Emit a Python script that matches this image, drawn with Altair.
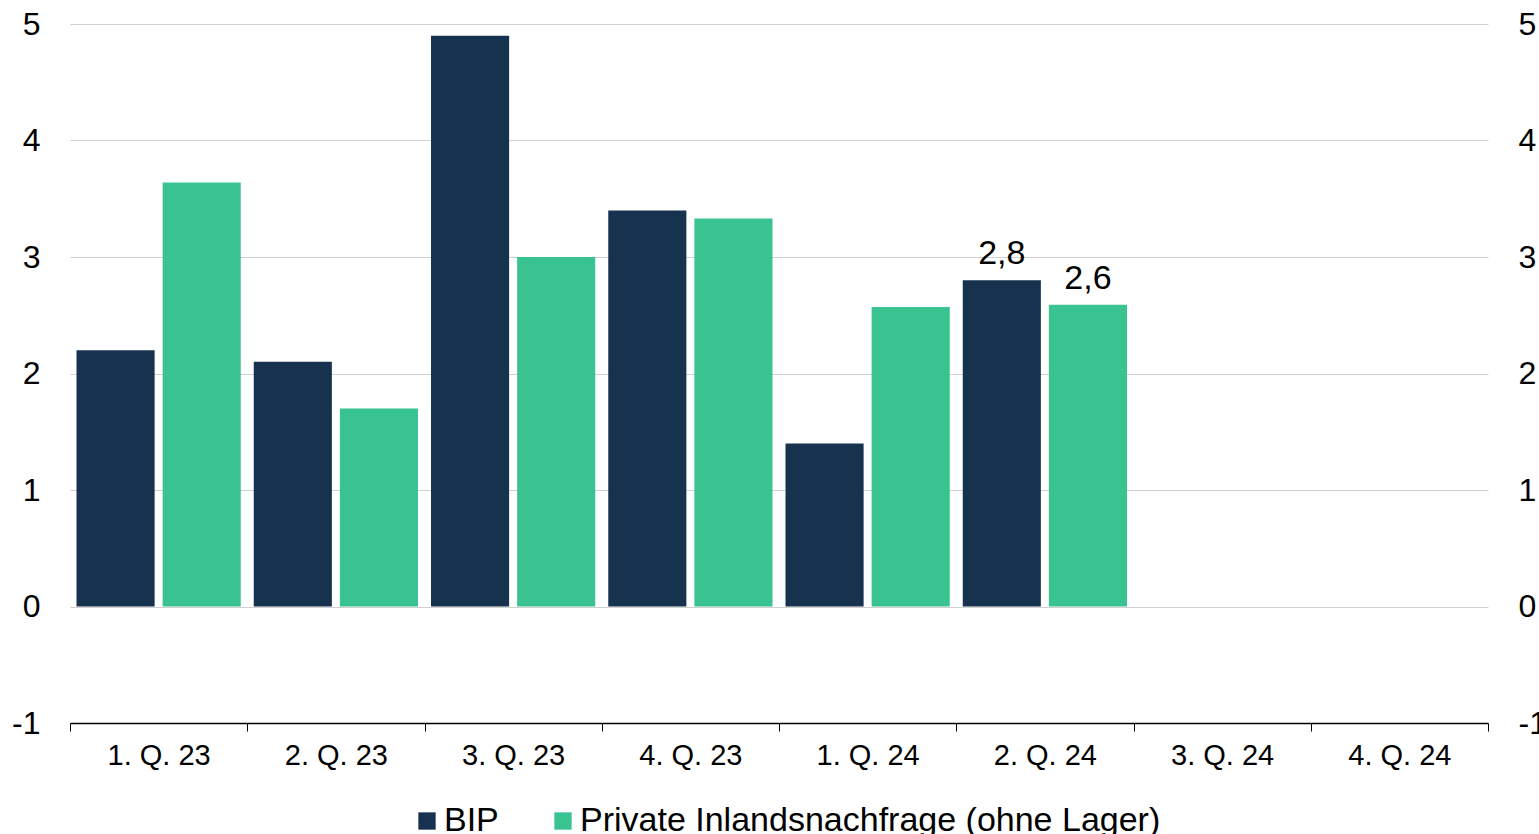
import altair as alt
import pandas as pd

quarters = ["1. Q. 23", "2. Q. 23", "3. Q. 23", "4. Q. 23", "1. Q. 24", "2. Q. 24", "3. Q. 24", "4. Q. 24"]
series_names = ["BIP", "Private Inlandsnachfrage (ohne Lager)"]
bip = [2.2, 2.1, 4.9, 3.4, 1.4, 2.8]
private = [3.64, 1.7, 3.0, 3.33, 2.57, 2.59]
label_bip = ["", "", "", "", "", "2,8"]
label_private = ["", "", "", "", "", "2,6"]
y_ticks = [-1, 0, 1, 2, 3, 4, 5]
colors = ["#17324f", "#38c391"]

rows = []
for i, v in enumerate(bip):
    rows.append({"q": quarters[i], "s": series_names[0], "v": v, "lab": label_bip[i]})
for i, v in enumerate(private):
    rows.append({"q": quarters[i], "s": series_names[1], "v": v, "lab": label_private[i]})
df = pd.DataFrame(rows)

FONT = "Liberation Sans"

x = alt.X("q:N", sort=quarters, title=None,
          scale=alt.Scale(domain=quarters, paddingInner=0, paddingOuter=0),
          axis=alt.Axis(labelAngle=0, labelFontSize=29, labelColor="#000000", labelFont=FONT,
                        domainColor="#000000", domainWidth=1.5, tickColor="#000000",
                        tickBand="extent", tickSize=8, labelPadding=10, grid=False))
xo = alt.XOffset("s:N", sort=series_names,
                 scale=alt.Scale(domain=series_names, paddingInner=0.093, paddingOuter=0.0756))
yscale = alt.Scale(domain=[-1, 5], nice=False, zero=False)

bars = alt.Chart(df).mark_bar(clip=False).encode(
    x=x,
    xOffset=xo,
    y=alt.Y("v:Q", scale=yscale, title=None,
            axis=alt.Axis(orient="left", values=y_ticks, labelFontSize=32,
                          labelExpr="toString(datum.value)",
                          labelFont=FONT, labelColor="#000000", domain=False, ticks=False,
                          labelPadding=30, gridColor="#d0d0d0", gridWidth=1.2)),
    y2=alt.datum(0),
    color=alt.Color("s:N", sort=series_names,
                    scale=alt.Scale(domain=series_names, range=colors),
                    legend=alt.Legend(title=None, orient="none", direction="horizontal",
                                      legendX=340, legendY=780, symbolType="square",
                                      symbolSize=300, symbolStrokeWidth=0, labelFontSize=34,
                                      labelFont=FONT, labelColor="#000000", labelOffset=0,
                                      columnPadding=47, labelLimit=1000)),
)

texts = alt.Chart(df).mark_text(fontSize=34, font=FONT, color="#000000", dy=-16,
                                baseline="alphabetic").encode(
    x=x,
    xOffset=xo,
    y=alt.Y("v:Q", scale=yscale, title=None,
            axis=alt.Axis(orient="right", values=y_ticks, labelFontSize=32,
                          labelExpr="toString(datum.value)",
                          labelFont=FONT, labelColor="#000000", domain=False, ticks=False,
                          labelPadding=30, grid=False, labelAlign="left")),
    text="lab:N",
)

chart = alt.layer(bars, texts).resolve_axis(y="independent").properties(
    width=1418, height=699,
    autosize=alt.AutoSizeParams(type="none"),
    padding={"left": 70, "top": 24, "right": 51, "bottom": 111},
    background="#ffffff",
).configure_view(strokeWidth=0)

chart.save("out.html", embed_options={"renderer": "svg", "actions": False})
